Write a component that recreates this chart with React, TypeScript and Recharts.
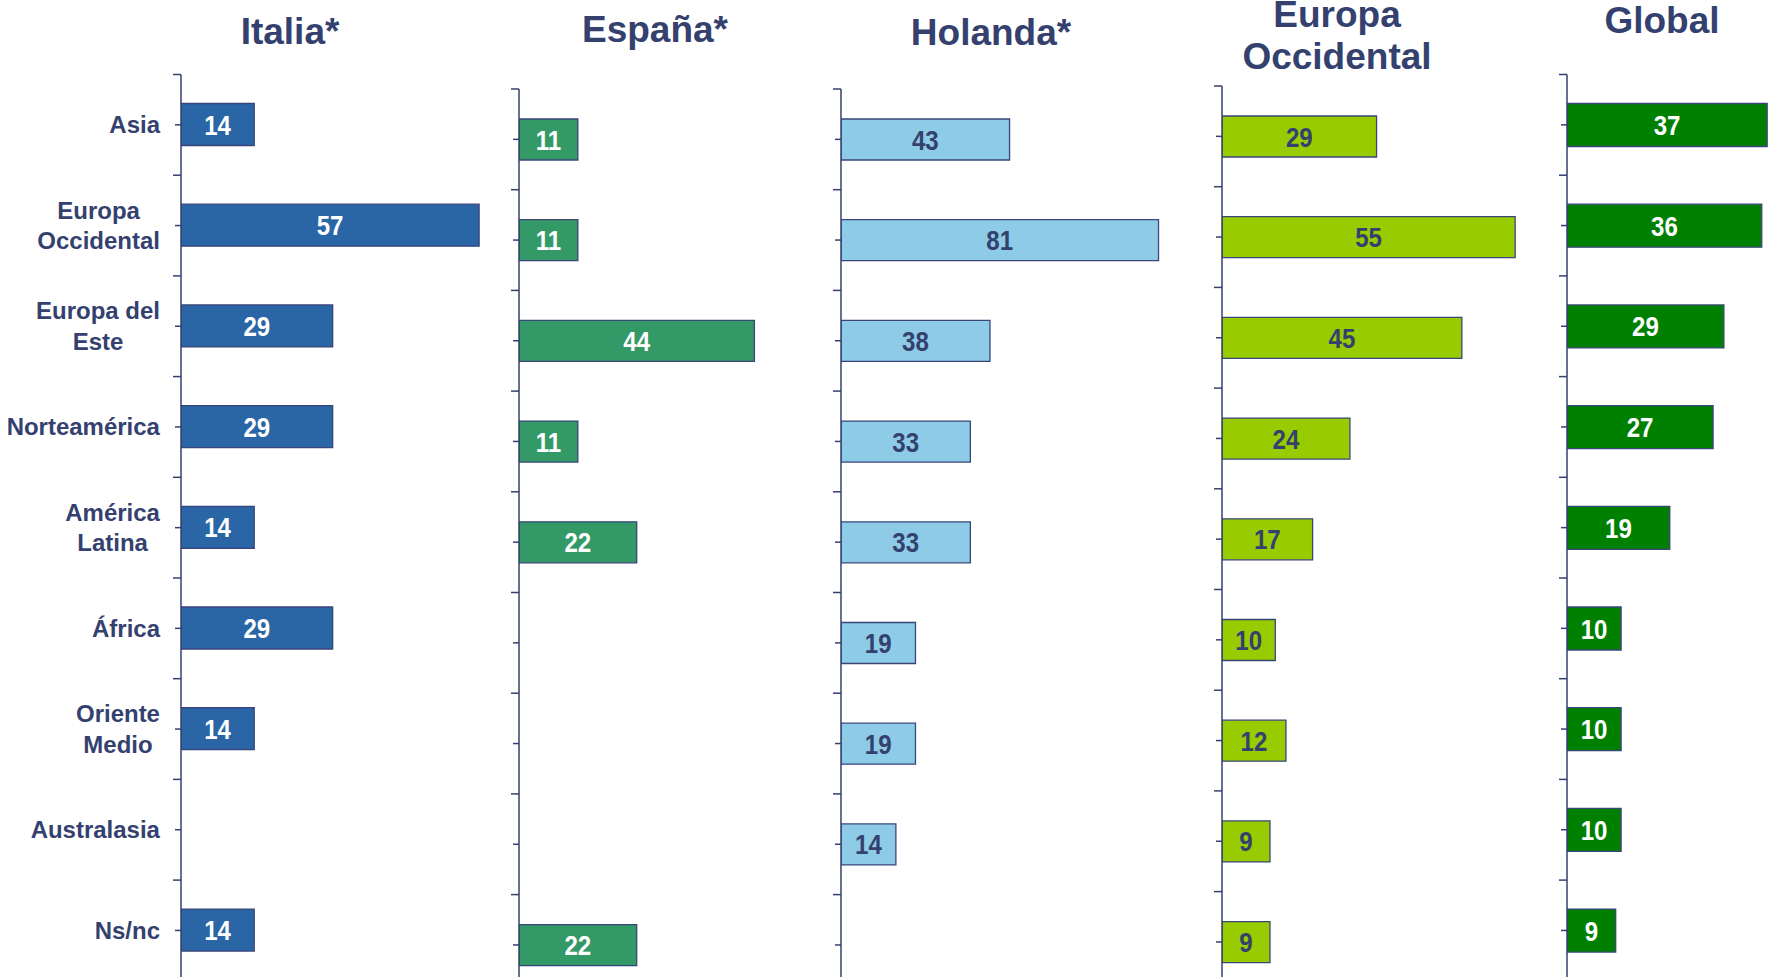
import React from 'react';
import { BarChart, Bar, XAxis, YAxis, LabelList } from 'recharts';

// categories top to bottom, shared by all panels
const categories = ['Asia', 'Europa Occidental', 'Europa del Este', 'Norteamérica', 'América Latina', 'África', 'Oriente Medio', 'Australasia', 'Ns/nc'];
const categoryLines = [['Asia'], ['Europa', 'Occidental'], ['Europa del', 'Este'], ['Norteamérica'], ['América', 'Latina'], ['África'], ['Oriente', 'Medio'], ['Australasia'], ['Ns/nc']];

const italia = [14, 57, 29, 29, 14, 29, 14, null, 14];
const espana = [11, 11, 44, 11, 22, null, null, null, 22];
const holanda = [43, 81, 38, 33, 33, 19, 19, 14, null];
const europaOcc = [29, 55, 45, 24, 17, 10, 12, 9, 9];
const globalVals = [37, 36, 29, 27, 19, 10, 10, 10, 9];

const NAVY = '#34416F';
const FONT = "'Liberation Sans', Arial, sans-serif";
const BAND = 100.7;

const panels = [
    { title: ['Italia*'], values: italia, fill: '#2A65A6', text: '#ffffff', axisX: 181, top: 74.5, scale: 5.23, barSize: 42, plotW: 300, titleX: 290, titleY: [44] },
    { title: ['España*'], values: espana, fill: '#339966', text: '#ffffff', axisX: 519, top: 89, scale: 5.35, barSize: 41, plotW: 300, titleX: 655, titleY: [42] },
    { title: ['Holanda*'], values: holanda, fill: '#8DCBE6', text: NAVY, axisX: 841, top: 89, scale: 3.92, barSize: 41, plotW: 360, titleX: 991, titleY: [45] },
    { title: ['Europa', 'Occidental'], values: europaOcc, fill: '#99CC00', text: NAVY, axisX: 1222, top: 86, scale: 5.33, barSize: 41, plotW: 320, titleX: 1337, titleY: [27, 69] },
    { title: ['Global'], values: globalVals, fill: '#008000', text: '#ffffff', axisX: 1567, top: 74.5, scale: 5.41, barSize: 43, plotW: 205, titleX: 1662, titleY: [33] },
];

let ctx: CanvasRenderingContext2D | null = null;
const textWidth = (t: string, font: string) => {
    if (!ctx) ctx = document.createElement('canvas').getContext('2d');
    if (!ctx) return t.length * 12;
    ctx.font = font;
    return ctx.measureText(t).width;
};

const CatTick = (props: any) => {
    const { y, payload, index, axisX, showLabels } = props;
    const half = payload && payload.offset ? payload.offset : BAND / 2;
    const lines = categoryLines[categories.indexOf(payload.value)] || [payload.value];
    const labelFont = `bold 24px ${FONT}`;
    const maxW = Math.max(...lines.map((l: string) => textWidth(l, labelFont)));
    const cx = axisX - 21 - maxW / 2;
    return (
        <g>
            <line x1={axisX - 6} x2={axisX} y1={y} y2={y} stroke={NAVY} strokeWidth={1.5} />
            <line x1={axisX - 8} x2={axisX} y1={y - half} y2={y - half} stroke={NAVY} strokeWidth={1.5} />
            {index === categories.length - 1 && (
                <line x1={axisX - 8} x2={axisX} y1={y + half} y2={y + half} stroke={NAVY} strokeWidth={1.5} />
            )}
            {showLabels && lines.map((l: string, i: number) => (
                <text key={i} x={cx} y={y + (i - (lines.length - 1) / 2) * 30.5 + 8.5} textAnchor="middle"
                    fill={NAVY} fontFamily={FONT} fontWeight="bold" fontSize={24}>
                    {l}
                </text>
            ))}
        </g>
    );
};

// narrow, tall digits like the original
const valueLabel = (color: string) => (props: any) => {
    const { value } = props;
    if (value === null || value === undefined) return null;
    const vb = props.viewBox && props.viewBox.width !== undefined ? props.viewBox : props;
    const cx = vb.x + vb.width / 2;
    const cy = vb.y + vb.height / 2;
    return (
        <text transform={`translate(${cx},${cy}) scale(0.86,1)`} textAnchor="middle" dy="0.36em"
            fill={color} fontFamily={FONT} fontWeight="bold" fontSize={28}>
            {value}
        </text>
    );
};

export default function App() {
    return (
        <div style={{ position: 'absolute', left: 0, top: 0, width: 1772, height: 977, overflow: 'hidden', background: '#ffffff' }}>
            {panels.map((p, pi) => {
                const yw = pi === 0 ? p.axisX : 12;
                const data = categories.map((name, i) => ({ name, value: p.values[i] }));
                const height = p.top + categories.length * BAND;
                return (
                    <div key={pi} style={{ position: 'absolute', left: p.axisX - yw, top: 0 }}>
                        <BarChart layout="vertical" width={yw + p.plotW} height={height} data={data}
                            margin={{ top: p.top, right: 0, bottom: 0, left: 0 }}>
                            <XAxis type="number" hide domain={[0, p.plotW / p.scale]} allowDataOverflow />
                            <YAxis type="category" dataKey="name" width={yw} interval={0} tickLine={false}
                                axisLine={{ stroke: NAVY, strokeWidth: 1.5 }}
                                tick={<CatTick axisX={yw} showLabels={pi === 0} />} />
                            <Bar dataKey="value" fill={p.fill} stroke="#3A4679" strokeWidth={1.3}
                                barSize={p.barSize} isAnimationActive={false}>
                                <LabelList dataKey="value" content={valueLabel(p.text)} />
                            </Bar>
                        </BarChart>
                    </div>
                );
            })}
            <svg width={1772} height={977} style={{ position: 'absolute', left: 0, top: 0, pointerEvents: 'none' }}>
                {panels.map((p, pi) => p.title.map((t, ti) => (
                    <text key={`${pi}-${ti}`} x={p.titleX} y={p.titleY[ti]} textAnchor="middle"
                        fill={NAVY} fontFamily={FONT} fontWeight="bold" fontSize={37}>
                        {t}
                    </text>
                )))}
            </svg>
        </div>
    );
}
